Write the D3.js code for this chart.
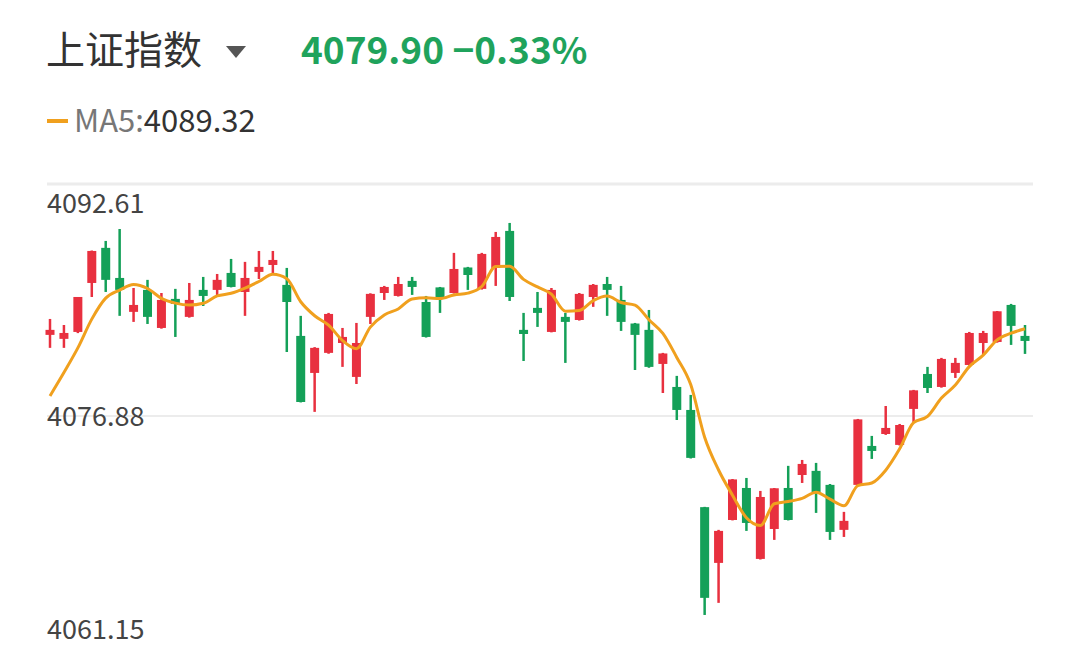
<!DOCTYPE html>
<html>
<head>
<meta charset="utf-8">
<script src="https://cdn.jsdelivr.net/npm/d3@7"></script>
<style>
  body { margin: 0; background: #fff; }
  text { font-family: "Noto Sans CJK SC", "Noto Sans", sans-serif; }
</style>
</head>
<body>
<script>
// candle data (red = up, green = down)
var opens  = [4082.38,4082.11,4082.58,4085.90,4088.28,4086.24,4083.94,4085.43,4082.85,4084.82,4083.60,4085.43,4085.43,4086.58,4085.29,4086.65,4087.12,4085.77,4082.31,4079.80,4081.16,4081.83,4079.53,4083.60,4085.22,4085.02,4086.04,4084.61,4085.60,4085.22,4086.95,4085.50,4086.92,4089.43,4082.72,4084.21,4082.58,4083.60,4083.39,4084.95,4085.83,4084.75,4083.15,4082.72,4080.41,4078.85,4077.29,4070.70,4066.92,4069.83,4072.00,4067.19,4069.22,4072.00,4072.88,4073.16,4072.21,4069.16,4072.21,4074.85,4075.66,4074.92,4077.36,4079.73,4078.85,4079.80,4080.34,4081.83,4081.90,4084.41,4082.31];
var highs  = [4083.46,4083.05,4084.95,4088.10,4088.75,4089.56,4085.56,4086.11,4085.22,4085.50,4085.90,4086.31,4086.51,4087.53,4087.33,4088.07,4088.07,4086.92,4083.67,4081.55,4083.87,4082.85,4083.19,4085.20,4085.70,4086.31,4086.31,4085.02,4085.63,4087.94,4086.99,4087.94,4089.36,4089.97,4083.87,4085.29,4085.56,4083.87,4085.22,4085.83,4086.31,4085.70,4083.19,4084.07,4081.16,4079.60,4078.31,4070.72,4069.16,4072.61,4072.68,4071.80,4072.00,4073.50,4073.90,4073.70,4072.27,4070.38,4076.68,4075.53,4077.56,4076.34,4078.65,4080.21,4080.82,4080.82,4082.58,4082.65,4084.00,4084.48,4083.05];
var lows   = [4081.50,4081.50,4082.50,4084.95,4085.29,4083.67,4083.26,4083.12,4082.80,4082.24,4083.55,4084.34,4084.95,4085.60,4083.67,4086.17,4086.44,4081.22,4077.80,4077.16,4081.10,4080.21,4079.05,4083.12,4084.75,4084.98,4085.09,4082.20,4083.87,4085.18,4085.43,4085.45,4085.70,4084.68,4080.61,4082.92,4082.55,4080.48,4083.35,4084.28,4083.67,4082.65,4080.00,4080.15,4078.44,4076.61,4074.00,4063.39,4064.21,4069.80,4069.09,4067.15,4068.48,4069.80,4072.34,4070.31,4068.48,4068.68,4072.15,4073.97,4075.60,4074.88,4076.41,4078.44,4078.80,4079.46,4080.30,4081.02,4081.85,4081.70,4081.09];
var closes = [4082.72,4082.51,4084.95,4088.07,4086.11,4085.43,4084.41,4083.60,4084.75,4084.48,4084.75,4085.02,4086.11,4085.63,4086.24,4086.99,4087.46,4084.61,4077.83,4081.50,4083.80,4082.24,4081.83,4085.16,4085.63,4085.83,4085.63,4082.24,4084.89,4086.85,4086.44,4087.87,4089.02,4084.95,4082.44,4083.87,4085.43,4083.26,4085.16,4085.77,4085.43,4083.26,4082.38,4080.21,4081.12,4077.29,4074.04,4064.55,4069.09,4072.58,4069.63,4071.39,4071.98,4069.83,4073.63,4071.73,4069.02,4069.77,4076.65,4074.51,4076.07,4076.27,4078.62,4078.78,4080.75,4080.48,4082.51,4082.51,4083.98,4082.99,4081.97];
// closes before the first visible candle, for the MA5
var prevCloses = [4074.58, 4076.61, 4078.31, 4078.99];
var yTicks = [4092.61, 4076.88, 4061.15];

var W = 1080, H = 646;
var svg = d3.select("body").append("svg").attr("width", W).attr("height", H);

var x = d3.scaleLinear().domain([0, closes.length - 1]).range([50, 1025]);
var y = d3.scaleLinear().domain([4061.15, 4092.61]).range([648, 184]);

// header
svg.append("text").attr("x", 46).attr("y", 64).attr("font-size", 39).attr("fill", "#333").text("上证指数");
svg.append("path").attr("d", "M226,46 L246,46 L236,58 Z").attr("fill", "#555");
svg.append("text").attr("x", 301).attr("y", 64).attr("font-size", 37).attr("font-weight", 600)
  .attr("fill", "#1fa35c").attr("font-family", "Noto Sans, sans-serif").text("4079.90 −0.33%");

// legend
svg.append("line").attr("x1", 47).attr("x2", 68).attr("y1", 121).attr("y2", 121)
  .attr("stroke", "#f0a01e").attr("stroke-width", 4);
var lg = svg.append("text").attr("x", 74).attr("y", 132).attr("font-size", 31).attr("font-family", "Noto Sans, sans-serif");
lg.append("tspan").attr("fill", "#777").text("MA5:");
lg.append("tspan").attr("fill", "#333").text("4089.32");

// grid
svg.append("line").attr("x1", 47).attr("x2", 1033).attr("y1", y(yTicks[0])).attr("y2", y(yTicks[0]))
  .attr("stroke", "#ececec").attr("stroke-width", 3);
svg.append("line").attr("x1", 47).attr("x2", 1033).attr("y1", y(yTicks[1])).attr("y2", y(yTicks[1]))
  .attr("stroke", "#e6e6e6").attr("stroke-width", 1.5);

svg.selectAll(".ytick").data(yTicks).enter().append("text")
  .attr("x", 47)
  .attr("y", function(d, i){ return [213, 426, 639][i]; })
  .attr("font-size", 27).attr("fill", "#444").attr("font-family", "Noto Sans, sans-serif")
  .text(function(d){ return d.toFixed(2); });

// candles
var red = "#e8303f", green = "#14a058";
var candles = svg.append("g").selectAll("g").data(closes).enter().append("g");
candles.append("line")
  .attr("x1", function(d, i){ return x(i); }).attr("x2", function(d, i){ return x(i); })
  .attr("y1", function(d, i){ return y(highs[i]); }).attr("y2", function(d, i){ return y(lows[i]); })
  .attr("stroke", function(d, i){ return d >= opens[i] ? red : green; }).attr("stroke-width", 2.5);
candles.append("rect")
  .attr("x", function(d, i){ return x(i) - 4.5; }).attr("width", 9)
  .attr("y", function(d, i){ return y(Math.max(d, opens[i])); })
  .attr("height", function(d, i){ return Math.max(3, Math.abs(y(d) - y(opens[i]))); })
  .attr("fill", function(d, i){ return d >= opens[i] ? red : green; });

// MA5
var all = prevCloses.concat(closes);
var ma = closes.map(function(c, i){ return d3.mean(all.slice(i, i + 5)); });
svg.append("path").datum(ma)
  .attr("d", d3.line().x(function(d, i){ return x(i); }).y(function(d){ return y(d); }).curve(d3.curveMonotoneX))
  .attr("fill", "none").attr("stroke", "#f0a01e").attr("stroke-width", 3);
</script>
</body>
</html>
